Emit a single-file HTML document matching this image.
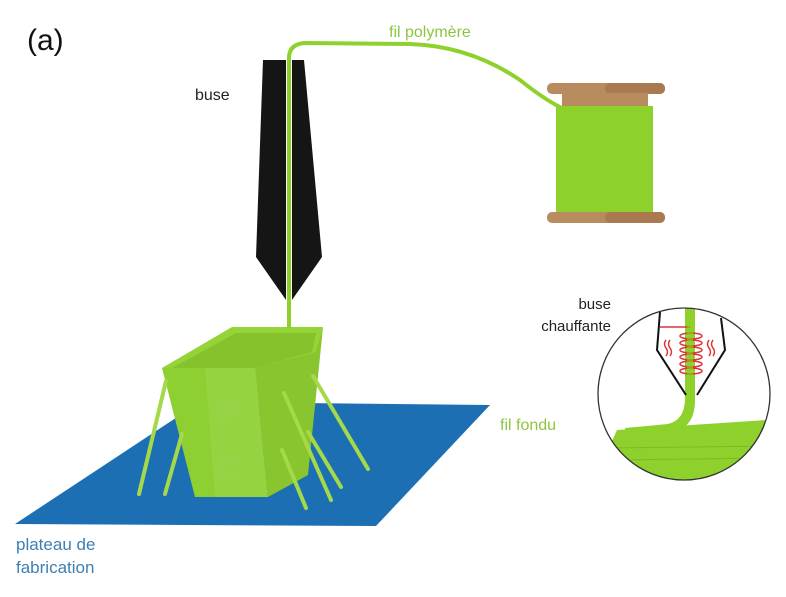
<!DOCTYPE html>
<html><head><meta charset="utf-8"><style>
html,body{margin:0;padding:0;background:#fff;}
svg{display:block;}
text{font-family:"Liberation Sans",sans-serif;}
</style></head><body>
<svg width="786" height="597" viewBox="0 0 786 597" xmlns="http://www.w3.org/2000/svg">
<rect width="786" height="597" fill="#fff"/>
<text x="27" y="50" font-size="30" fill="#111">(a)</text>
<text x="195" y="100" font-size="16" fill="#222">buse</text>
<text x="389" y="37" font-size="16" fill="#8cc63f">fil polymère</text>
<text x="16" y="550" font-size="17" fill="#3d7fb3">plateau de</text>
<text x="16" y="573" font-size="17" fill="#3d7fb3">fabrication</text>

<polygon points="15,524 376,526 490,405 200,402" fill="#1d6fb3"/>

<rect x="547" y="83" width="118" height="11" rx="5" fill="#b98c60"/>
<rect x="605" y="83" width="60" height="11" rx="5" fill="#a97a50"/>
<rect x="562" y="93" width="86" height="16" fill="#b98c60"/>
<rect x="562" y="205" width="86" height="10" fill="#b98c60"/>
<rect x="547" y="212" width="118" height="11" rx="5" fill="#b98c60"/>
<rect x="605" y="212" width="60" height="11" rx="5" fill="#a97a50"/>
<rect x="556" y="106" width="97" height="106" fill="#8fd12c"/>

<path d="M289,312 L289,58 Q289,44 305,43 L410,44 Q470,46 520,80 Q545,100 562,108" fill="none" stroke="#8fd12c" stroke-width="4"/>

<polygon points="263,60 286,60 286,300 256,257" fill="#151515"/>
<polygon points="292,60 304,60 322,257 292,300" fill="#151515"/>

<polygon points="162,368 232,327 323,327 316,358 255,368" fill="#94d436"/>
<polygon points="172,368 236,333 316,333 312,352 255,368" fill="#86c22c"/>
<polygon points="162,368 255,368 268,497 195,497" fill="#8ecf32"/>
<polygon points="205,368 255,368 268,497 215,497" fill="#98d646" opacity="0.7"/>
<polygon points="255,368 316,352 323,327 308,475 268,497" fill="#88c52e"/>
<text x="220" y="420" font-size="30" font-weight="bold" fill="#9bd24e" opacity="0.6">P</text>
<text x="218" y="478" font-size="30" font-weight="bold" fill="#9bd24e" opacity="0.6">C</text>
<g stroke="#a4d94a" stroke-width="4" stroke-linecap="round">
<line x1="166" y1="381" x2="139" y2="494"/>
<line x1="182" y1="434" x2="165" y2="494"/>
<line x1="284" y1="393" x2="331" y2="500"/>
<line x1="313" y1="376" x2="368" y2="469"/>
<line x1="308" y1="432" x2="341" y2="487"/>
<line x1="282" y1="450" x2="306" y2="508"/>
</g>
<line x1="289" y1="312" x2="289" y2="328" stroke="#8fd12c" stroke-width="4"/>

<defs><clipPath id="c"><circle cx="684" cy="394" r="86"/></clipPath></defs>
<circle cx="684" cy="394" r="86" fill="#fff"/>
<g clip-path="url(#c)">
<path d="M617,430 L766,420 L790,420 L790,490 L590,490 Z" fill="#8fd12c"/>
<path d="M685,300 L695,300 L695,400 Q695,428 672,432 L625,436 L625,428 L668,424 Q685,420 685,398 Z" fill="#8fd12c"/>
<line x1="610" y1="448" x2="770" y2="446" stroke="#7fb928" stroke-width="1"/>
<line x1="610" y1="460" x2="770" y2="458" stroke="#7fb928" stroke-width="1"/>
</g>
<g fill="none" stroke="#111" stroke-width="2">
<polyline points="660,312 657,350 686,395"/>
<polyline points="721,318 725,350 697,395"/>
</g>
<g fill="none" stroke="#e0323a" stroke-width="1.5">
<line x1="660" y1="327" x2="690" y2="327"/>
<ellipse cx="691" cy="336" rx="11" ry="3"/>
<ellipse cx="691" cy="343" rx="11" ry="3"/>
<ellipse cx="691" cy="350" rx="11" ry="3"/>
<ellipse cx="691" cy="357" rx="11" ry="3"/>
<ellipse cx="691" cy="364" rx="11" ry="3"/>
<ellipse cx="691" cy="371" rx="11" ry="3"/>
<path d="M666,340 q-3,4 0,8 q3,4 0,8 M670,340 q-3,4 0,8 q3,4 0,8"/>
<path d="M709,340 q-3,4 0,8 q3,4 0,8 M713,340 q-3,4 0,8 q3,4 0,8"/>
</g>
<g clip-path="url(#c)"><line x1="690" y1="300" x2="690" y2="395" stroke="#8fd12c" stroke-width="6" opacity="0.6"/></g>
<circle cx="684" cy="394" r="86" fill="none" stroke="#333" stroke-width="1.3"/>
<text x="611" y="309" font-size="15" fill="#222" text-anchor="end">buse</text>
<text x="611" y="331" font-size="15" fill="#222" text-anchor="end">chauffante</text>
<text x="500" y="430" font-size="16" fill="#8cc63f">fil fondu</text>
</svg>
</body></html>
